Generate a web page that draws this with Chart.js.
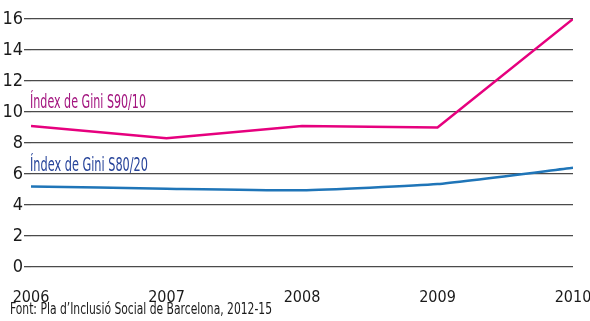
<!DOCTYPE html>
<html>
<head>
<meta charset="utf-8">
<script src="https://cdn.jsdelivr.net/npm/chart.js@4/dist/chart.umd.min.js"></script>
<style>
  html, body { margin: 0; padding: 0; background: #fff; }
  #wrap { width: 590px; height: 321px; position: relative; }
</style>
</head>
<body>
<div id="wrap"><canvas id="giniChart"></canvas></div>
<script>
const years = [2006, 2007, 2008, 2009, 2010];
const gini9010 = [9.1, 8.3, 9.1, 9.0, 16.0];
const gini8020 = [5.2, 5.05, 4.95, 5.35, 6.4];
const yTicks = [0, 2, 4, 6, 8, 10, 12, 14, 16];

const label9010 = 'Índex de Gini S90/10';
const label8020 = 'Índex de Gini S80/20';
const sourceText = 'Font: Pla d\u2019Inclusió Social de Barcelona, 2012-15';

const FONT = '"Liberation Sans Narrow", "DejaVu Sans Condensed", sans-serif';

// draw text squeezed horizontally to a given width (the original uses a condensed face)
function narrowText(ctx, text, x, y, width) {
    const w = ctx.measureText(text).width;
    const s = Math.min(1, width / w);
    ctx.save();
    ctx.translate(x, y);
    ctx.scale(s, 1);
    ctx.fillText(text, 0, 0);
    ctx.restore();
}

// series labels above the lines + source note at the bottom
const notesPlugin = {
    id: 'notes',
    afterDatasetsDraw(chart) {
        const { ctx, scales } = chart;
        const x0 = scales.x.getPixelForValue(years[0]) - 1;
        ctx.save();
        ctx.font = '19px ' + FONT;
        ctx.textBaseline = 'alphabetic';
        ctx.textAlign = 'left';
        ctx.fillStyle = '#a3157f';
        narrowText(ctx, label9010, x0, scales.y.getPixelForValue(10) - 4, 116);
        ctx.fillStyle = '#27449a';
        narrowText(ctx, label8020, x0, scales.y.getPixelForValue(6) - 3, 118);
        ctx.font = '16px ' + FONT;
        ctx.fillStyle = '#1a1a1a';
        narrowText(ctx, sourceText, 10, 314, 262);
        ctx.restore();
    }
};

new Chart(document.getElementById('giniChart'), {
    type: 'line',
    data: {
        datasets: [
            {
                label: label9010,
                data: years.map((y, i) => ({ x: y, y: gini9010[i] })),
                borderColor: '#e6007e',
                borderWidth: 2.5,
                pointRadius: 0,
                tension: 0
            },
            {
                label: label8020,
                data: years.map((y, i) => ({ x: y, y: gini8020[i] })),
                borderColor: '#1f75b8',
                borderWidth: 2.5,
                pointRadius: 0,
                tension: 0.15
            }
        ]
    },
    plugins: [notesPlugin],
    options: {
        responsive: true,
        maintainAspectRatio: false,
        animation: false,
        layout: { padding: { top: 19, right: 17, left: 0, bottom: 0 } },
        plugins: {
            legend: { display: false },
            tooltip: { enabled: false }
        },
        scales: {
            x: {
                type: 'linear',
                min: years[0],
                max: years[years.length - 1],
                afterBuildTicks: axis => { axis.ticks = years.map(v => ({ value: v })); },
                afterFit: axis => {
                    axis.height = 54;
                    axis.paddingLeft = 0;
                    axis.paddingRight = 0;
                },
                grid: { display: false },
                border: { display: false },
                ticks: {
                    padding: 13,
                    color: '#1a1a1a',
                    font: { family: FONT, size: 16 },
                    callback: v => String(v),
                    maxRotation: 0
                }
            },
            y: {
                min: 0,
                max: 16,
                afterBuildTicks: axis => { axis.ticks = yTicks.map(v => ({ value: v })); },
                afterFit: axis => {
                    axis.width = 31;
                    axis.paddingTop = 0;
                    axis.paddingBottom = 0;
                },
                border: { display: false },
                grid: {
                    color: '#4a4a4a',
                    lineWidth: 1.3,
                    drawTicks: true,
                    tickLength: 7,
                    tickColor: '#4a4a4a'
                },
                ticks: {
                    padding: 1,
                    color: '#1a1a1a',
                    font: { family: FONT, size: 18 }
                }
            }
        }
    }
});
</script>
</body>
</html>
